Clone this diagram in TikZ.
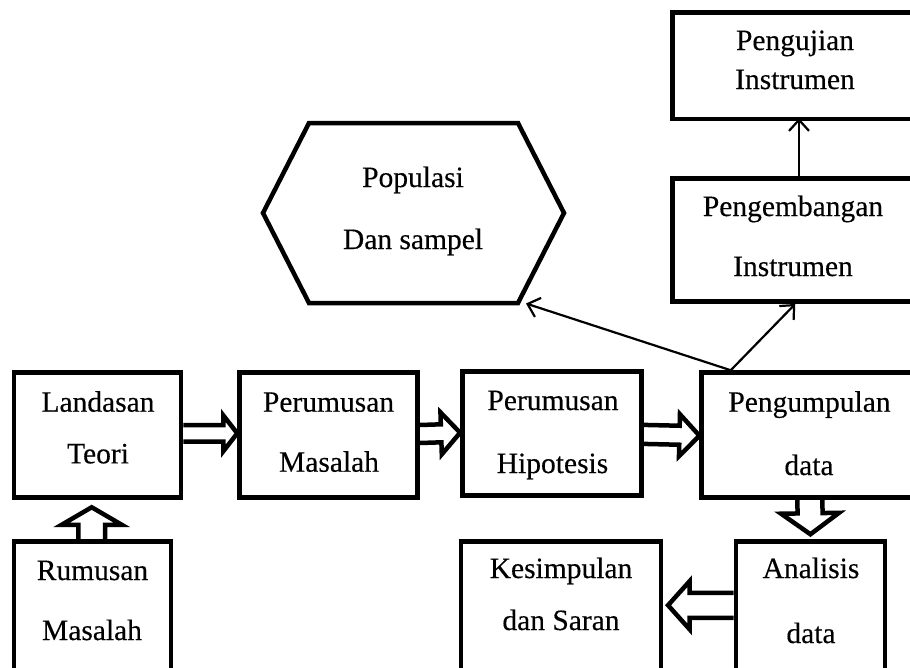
\documentclass[tikz,border=0pt]{standalone}
\usepackage{fontspec}
\setmainfont{Liberation Serif}[FakeBold=0.3]
\usetikzlibrary{calc,arrows.meta}
\newcommand\hollowarrow[5]{%
  \path (#1) coordinate (ha) (#2) coordinate (hb);
  \path ($(hb)!#5!(ha)$) coordinate (hh);
  \draw[blockarrow] ($(ha)!#3!90:(hb)$) -- ($(hh)!#3!90:(hb)$) -- ($(hh)!#4!90:(hb)$)
    -- (hb) -- ($(hh)!#4!-90:(hb)$) -- ($(hh)!#3!-90:(hb)$) -- ($(ha)!#3!-90:(hb)$);
}
\begin{document}
\begin{tikzpicture}[x=1pt,y=-1pt,
  box/.style={draw, line width=4.5pt, inner sep=0pt},
  txt/.style={font=\fontsize{29.5}{35}\selectfont, inner sep=0pt, anchor=base},
  blockarrow/.style={line width=4.5pt, line join=miter},
  thinarrow/.style={line width=2.2pt, -{Straight Barb[length=11pt,width=20pt]}}
]
\useasboundingbox (0,0) rectangle (910,667);
\fill[white] (0,0) rectangle (910,667);
\clip (0,0) rectangle (910,667);

% boxes
\node[box, minimum width=167pt, minimum height=125pt] (lt) at (97.5,435) {};
\node[box, minimum width=178pt, minimum height=125pt] (pm) at (328.5,435) {};
\node[box, minimum width=179.3pt, minimum height=124pt] (ph) at (552,433.7) {};
\node[box, minimum width=216.3pt, minimum height=125pt] (pd) at (809.85,435) {};
\node[box, minimum width=157pt, minimum height=148.5pt] (rm) at (92.5,615.75) {};
\node[box, minimum width=200pt, minimum height=148.5pt] (ks) at (560.8,615.75) {};
\node[box, minimum width=149.2pt, minimum height=148.5pt] (an) at (810.4,615.75) {};
\node[box, minimum width=245.5pt, minimum height=106.5pt] (pj) at (795.25,65.75) {};
\node[box, minimum width=245.5pt, minimum height=123.2pt] (pg) at (795.25,240.1) {};

% hexagon
\draw[line width=4.5pt, line join=miter] (263,213) coordinate (hexl) -- (309,123) -- (518,123)
  -- (564,213) -- (518,303) coordinate (hexbr) -- (309,303) -- cycle;
\coordinate (hexend) at (526,303.5);

% texts
\node[txt] (lt-a) at (98,411.7) {Landasan};
\node[txt] (lt-b) at (98,463.3) {Teori};
\node[txt] (pm-a) at (328.5,411.7) {Perumusan};
\node[txt] (pm-b) at (329,471.7) {Masalah};
\node[txt] (ph-a) at (553,410) {Perumusan};
\node[txt] (ph-b) at (552.5,473) {Hipotesis};
\node[txt] (pd-a) at (809.5,411.7) {Pengumpulan};
\node[txt] (pd-b) at (809,475) {data};
\node[txt] (rm-a) at (92.5,580) {Rumusan};
\node[txt] (rm-b) at (92,640) {Masalah};
\node[txt] (ks-a) at (561,578) {Kesimpulan};
\node[txt] (ks-b) at (561,630) {dan Saran};
\node[txt] (an-a) at (811,578) {Analisis};
\node[txt] (an-b) at (811,643) {data};
\node[txt] (pj-a) at (795,50) {Pengujian};
\node[txt] (pj-b) at (795,89) {Instrumen};
\node[txt] (pg-a) at (793,216) {Pengembangan};
\node[txt] (pg-b) at (793,276) {Instrumen};
\node[txt] (hx-a) at (413,187) {Populasi};
\node[txt] (hx-b) at (413,249) {Dan sampel};

% hollow block arrows
\hollowarrow{[yshift=1.7pt]lt.east}{[yshift=1.7pt]pm.west}{8.3pt}{18pt}{14pt}
\hollowarrow{[yshift=1pt]pm.east}{[yshift=1pt]ph.west}{9pt}{21pt}{19pt}
\hollowarrow{[yshift=-0.7pt]ph.east}{[yshift=-0.7pt]pd.west}{9.5pt}{21pt}{20pt}
\hollowarrow{pd.south}{[yshift=5pt]an.north}{12.5pt}{29pt}{21pt}
\hollowarrow{[yshift=10.5pt]an.west}{[xshift=5pt,yshift=10.5pt]ks.east}{12.5pt}{24pt}{21.5pt}
\hollowarrow{[xshift=-0.8pt]rm.north}{[xshift=-5.8pt,yshift=-7.5pt]lt.south}{13.3pt}{30pt}{17.5pt}

% thin arrows
\coordinate (pdtop) at ([xshift=31.3pt]pd.north west);
\draw[thinarrow] (pdtop) -- (hexend);
\draw[thinarrow] (pdtop) -- (pg.south);
\draw[thinarrow, shorten >=-3pt] ([xshift=3.75pt]pg.north) -- ([xshift=3.75pt]pj.south);
\end{tikzpicture}
\end{document}
